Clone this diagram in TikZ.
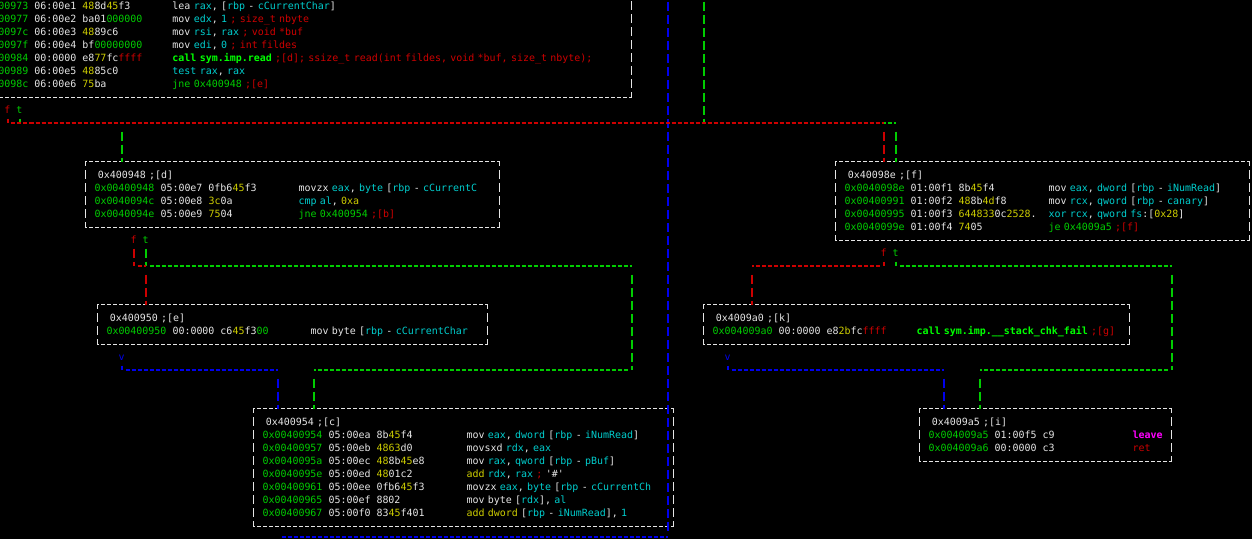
\documentclass[tikz,border=0pt]{standalone}
\usepackage{fontspec}
\setmonofont{DejaVu Sans Mono}
\setlength\parindent{0pt}

\definecolor{tw}{HTML}{E5E5E5}
\definecolor{ag}{HTML}{00CD00}
\definecolor{lg}{HTML}{00FF00}
\definecolor{cy}{HTML}{00CDCD}
\definecolor{yl}{HTML}{CDCD00}
\definecolor{rd}{HTML}{CD0000}
\definecolor{bl}{HTML}{0000EE}
\definecolor{mg}{HTML}{FF00FF}

\newcommand\rowstrut{\rule[-3.5pt]{0pt}{13pt}}
\newcommand\cyn[1]{\textcolor{cy}{#1}}
\newcommand\yel[1]{\textcolor{yl}{#1}}
\newcommand\grn[1]{\textcolor{ag}{#1}}
\newcommand\rdd[1]{\textcolor{rd}{#1}}
\newcommand\bld[1]{\textcolor{lg}{\bfseries #1}}
% one disassembly row: address, seq, bytes, instruction
\newcommand\asm[4]{\mbox{\rowstrut\makebox[66pt][l]{\grn{#1}}\makebox[48pt][l]{#2}\makebox[90pt][l]{#3}#4}}
\newcommand\blkhd[1]{\mbox{\rowstrut\ #1}}
% ascii frame round a block
\newcommand\blkframe[1]{%
  \draw[fh] (#1.north west) -- (#1.north east) (#1.south west) -- (#1.south east);
  \draw[fv] (#1.north west) -- (#1.south west) (#1.north east) -- (#1.south east);}

\begin{document}
\begin{tikzpicture}[
  x=6pt, y=-13pt,
  blk/.style={text=tw, font=\ttfamily\fontsize{9.966pt}{13pt}\selectfont, align=left, inner xsep=9pt, inner ysep=0pt},
  lbl/.style={font=\ttfamily\fontsize{9.966pt}{13pt}\selectfont, inner sep=0pt, minimum height=13pt},
  fh/.style={draw=tw, line width=1.2pt, dash pattern=on 4pt off 2pt, dash phase=2pt},
  fv/.style={draw=tw, line width=1.3pt, dash pattern=on 9pt off 4pt, dash phase=4.5pt},
  ch/.style={line width=1.3pt, dash pattern=on 4pt off 2pt, dash phase=5pt},
  cv/.style={line width=2pt, dash pattern=on 9pt off 4pt, dash phase=11pt, transform canvas={xshift=0.5pt}}
]
\useasboundingbox (-0.25,-0.4615) rectangle (208.4167,41);
\clip (-0.25,-0.4615) rectangle (208.4167,41);
\fill[black] (-0.25,-0.4615) rectangle (208.4167,41);

% blocks
\node[blk, minimum width=672pt, minimum height=104pt, text width=654pt] (read) at (49,3) {%
\asm{0x00400973}{06:00e1}{\yel{48}8d\yel{45}f3}{lea \cyn{rax}, [\cyn{rbp} - \cyn{cCurrentChar}]}\\
\asm{0x00400977}{06:00e2}{ba01\grn{000000}}{mov \cyn{edx}, \cyn{1} \rdd{; size\_t nbyte}}\\
\asm{0x0040097c}{06:00e3}{\yel{48}89c6}{mov \cyn{rsi}, \cyn{rax} \rdd{; void *buf}}\\
\asm{0x0040097f}{06:00e4}{bf\grn{00000000}}{mov \cyn{edi}, \cyn{0} \rdd{; int fildes}}\\
\asm{0x00400984}{00:0000}{e8\yel{77}fc\rdd{ffff}}{\bld{call sym.imp.read} \rdd{;[d]; ssize\_t read(int fildes, void *buf, size\_t nbyte);}}\\
\asm{0x00400989}{06:00e5}{\yel{48}85c0}{\cyn{test rax}, \cyn{rax}}\\
\asm{0x0040098c}{06:00e6}{\yel{75}ba}{\grn{jne 0x400948} \rdd{;[e]}}};
\blkframe{read}

\node[blk, minimum width=414pt, minimum height=65pt, text width=396pt] (cmpnl) at (48.5,14.5) {%
\blkhd{0x400948 ;[d]}\\
\asm{0x00400948}{05:00e7}{0fb6\yel{45}f3}{movzx \cyn{eax}, \cyn{byte} [\cyn{rbp} - \cyn{cCurrentC}}\\
\asm{0x0040094c}{05:00e8}{\yel{3c}0a}{\cyn{cmp al}, \yel{0xa}}\\
\asm{0x0040094e}{05:00e9}{\yel{75}04}{\grn{jne 0x400954} \rdd{;[b]}}};
\blkframe{cmpnl}

\node[blk, minimum width=390pt, minimum height=39pt, text width=372pt] (zero) at (48.5,24.5) {%
\blkhd{0x400950 ;[e]}\\
\asm{0x00400950}{00:0000}{c6\yel{45}f3\grn{00}}{mov byte [\cyn{rbp} - \cyn{cCurrentChar}}};
\blkframe{zero}

\node[blk, minimum width=420pt, minimum height=117pt, text width=402pt] (store) at (77,35.5) {%
\blkhd{0x400954 ;[c]}\\
\asm{0x00400954}{05:00ea}{8b\yel{45}f4}{mov \cyn{eax}, \cyn{dword} [\cyn{rbp} - \cyn{iNumRead}]}\\
\asm{0x00400957}{05:00eb}{\yel{4863}d0}{movsxd \cyn{rdx}, \cyn{eax}}\\
\asm{0x0040095a}{05:00ec}{\yel{48}8b\yel{45}e8}{mov \cyn{rax}, \cyn{qword} [\cyn{rbp} - \cyn{pBuf}]}\\
\asm{0x0040095e}{05:00ed}{\yel{48}01c2}{\yel{add} \cyn{rdx}, \cyn{rax} \rdd{;} '\#'}\\
\asm{0x00400961}{05:00ee}{0fb6\yel{45}f3}{movzx \cyn{eax}, \cyn{byte} [\cyn{rbp} - \cyn{cCurrentCh}}\\
\asm{0x00400965}{05:00ef}{8802}{mov byte [\cyn{rdx}], \cyn{al}}\\
\asm{0x00400967}{05:00f0}{83\yel{45}f401}{\yel{add dword} [\cyn{rbp} - \cyn{iNumRead}], \cyn{1}}};
\blkframe{store}

\node[blk, minimum width=414pt, minimum height=78pt, text width=396pt] (canary) at (173.5,15) {%
\blkhd{0x40098e ;[f]}\\
\asm{0x0040098e}{01:00f1}{8b\yel{45}f4}{mov \cyn{eax}, \cyn{dword} [\cyn{rbp} - \cyn{iNumRead}]}\\
\asm{0x00400991}{01:00f2}{\yel{48}8b\yel{4d}f8}{mov \cyn{rcx}, \cyn{qword} [\cyn{rbp} - \cyn{canary}]}\\
\asm{0x00400995}{01:00f3}{\yel{644833}0c\yel{2528}.}{\cyn{xor rcx}, \cyn{qword fs}:[\yel{0x28}]}\\
\asm{0x0040099e}{01:00f4}{\yel{74}05}{\grn{je 0x4009a5} \rdd{;[f]}}};
\blkframe{canary}

\node[blk, minimum width=426pt, minimum height=39pt, text width=408pt] (fail) at (152.5,24.5) {%
\blkhd{0x4009a0 ;[k]}\\
\asm{0x004009a0}{00:0000}{e8\yel{2b}fc\rdd{ffff}}{\bld{call sym.imp.\_\_stack\_chk\_fail} \rdd{;[g]}}};
\blkframe{fail}

\node[blk, minimum width=252pt, minimum height=52pt, text width=234pt] (leave) at (174,33) {%
\blkhd{0x4009a5 ;[i]}\\
\asm{0x004009a5}{01:00f5}{c9}{\textcolor{mg}{\bfseries leave}}\\
\asm{0x004009a6}{00:0000}{c3}{\rdd{ret}}};
\blkframe{leave}

% branch labels
\node[lbl, text=rd] (rf) at (1,8) {\rowstrut f};
\node[lbl, text=ag] (rt) at (3,8) {\rowstrut t};
\node[lbl, text=rd] (df) at (22,18) {\rowstrut f};
\node[lbl, text=ag] (dt) at (24,18) {\rowstrut t};
\node[lbl, text=rd] (ff) at (147,19) {\rowstrut f};
\node[lbl, text=ag] (ft) at (149,19) {\rowstrut t};
\node[lbl, text=bl] (ev) at (20,27) {\rowstrut v};
\node[lbl, text=bl] (kv) at (121,27) {\rowstrut v};

% bends
\coordinate (rfb) at (147,9);
\coordinate (rtb) at (20,9);
\coordinate (lpin) at (117,-0.5);
\coordinate (lpa) at (117,9);
\coordinate (lpb) at (149,9);
\coordinate (dfb) at (24,20);
\coordinate (dta) at (105,20);
\coordinate (dtb) at (105,28);
\coordinate (dtc) at (52,28);
\coordinate (evb) at (46,28);
\coordinate (ffb) at (125,20);
\coordinate (fta) at (195,20);
\coordinate (ftb) at (195,28);
\coordinate (ftc) at (163,28);
\coordinate (kvb) at (157,28);
\coordinate (bka) at (46,40.85);
\coordinate (bkb) at (111,40.85);
\coordinate (bkout) at (111,-0.5);

% loop head -> canary
\draw[cv,ag] (lpin) -- (lpa);
\draw[ch,ag] (lpa) ++(0.5,0) -- (lpb);
\draw[cv,ag] (lpb) ++(0,0.5) -- (canary.north -| lpb);
% read -> cmpnl
\draw[cv,ag] (rt) -- (rt |- rtb);
\draw[ch,ag] (rt |- rtb) ++(0.5,0) -- (rtb);
\draw[cv,ag] (rtb) ++(0,0.5) -- (cmpnl.north -| rtb);
% cmpnl -> store
\draw[cv,ag] (dt) -- (dt |- dta);
\draw[ch,ag] (dt |- dta) ++(0.5,0) -- (dta);
\draw[cv,ag] (dta) ++(0,0.5) -- (dtb);
\draw[ch,ag] (dtb) ++(-0.5,0) -- (dtc);
\draw[cv,ag] (dtc) ++(0,0.5) -- (store.north -| dtc);
% canary -> leave
\draw[cv,ag] (ft) -- (ft |- fta);
\draw[ch,ag] (ft |- fta) ++(0.5,0) -- (fta);
\draw[cv,ag] (fta) ++(0,0.5) -- (ftb);
\draw[ch,ag] (ftb) ++(-0.5,0) -- (ftc);
\draw[cv,ag] (ftc) ++(0,0.5) -- (leave.north -| ftc);

% zero -> store
\draw[cv,bl] (ev) -- (ev |- evb);
\draw[ch,bl] (ev |- evb) ++(0.5,0) -- (evb);
\draw[cv,bl] (evb) ++(0,0.5) -- (store.north -| evb);
% fail -> leave
\draw[cv,bl] (kv) -- (kv |- kvb);
\draw[ch,bl] (kv |- kvb) ++(0.5,0) -- (kvb);
\draw[cv,bl] (kvb) ++(0,0.5) -- (leave.north -| kvb);
% store -> loop head
\draw[ch,bl] (bka) ++(0.5,0) -- (bkb);
\draw[cv,bl] (bkb) ++(0,-0.35) -- (bkout);

% read -> canary
\draw[cv,rd] (rf) -- (rf |- rfb);
\draw[ch,rd] (rf |- rfb) ++(0.5,0) -- (rfb);
\draw[cv,rd] (rfb) ++(0,0.5) -- (canary.north -| rfb);
% cmpnl -> zero
\draw[cv,rd] (df) -- (df |- dfb);
\draw[ch,rd] (df |- dfb) ++(0.5,0) -- (dfb);
\draw[cv,rd] (dfb) ++(0,0.5) -- (zero.north -| dfb);
% canary -> fail
\draw[cv,rd] (ff) -- (ff |- ffb);
\draw[ch,rd] (ff |- ffb) ++(-0.5,0) -- (ffb);
\draw[cv,rd] (ffb) ++(0,0.5) -- (fail.north -| ffb);
\end{tikzpicture}
\end{document}
